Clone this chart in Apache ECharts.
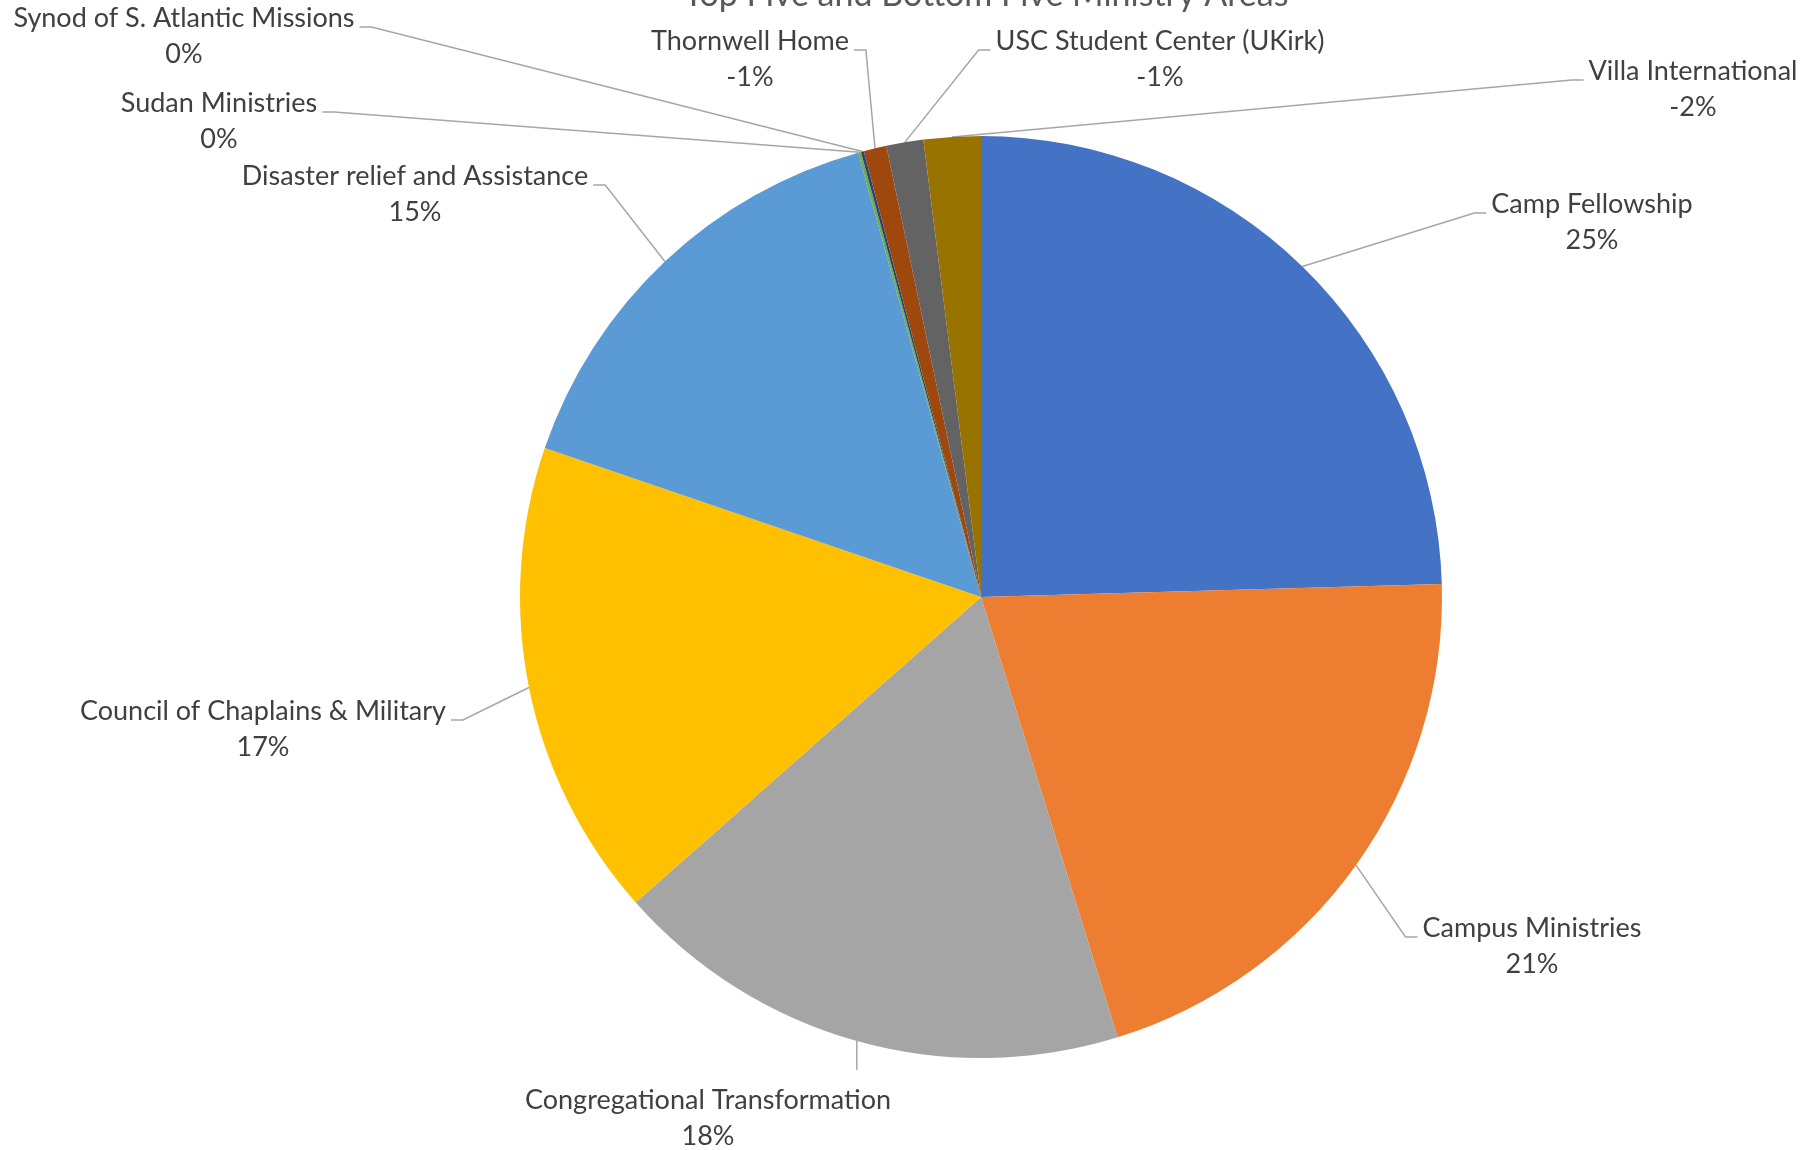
<!DOCTYPE html>
<html>
<head>
<meta charset="utf-8">
<script src="https://cdn.jsdelivr.net/npm/echarts@6/dist/echarts.min.js"></script>
<style>
  html, body { margin: 0; padding: 0; background: #fff; }
  #chart { width: 1808px; height: 1150px; }
</style>
</head>
<body>
<div id="chart"></div>
<script>
// Ministry areas, clockwise from 12 o'clock
const categories = [
  'Camp Fellowship',
  'Campus Ministries',
  'Congregational Transformation',
  'Council of Chaplains & Military',
  'Disaster relief and Assistance',
  'Sudan Ministries',
  'Synod of S. Atlantic Missions',
  'Thornwell Home',
  'USC Student Center (UKirk)',
  'Villa International'
]
// change values (signed); slice size uses the magnitude
const values = [24.6, 20.7, 18.3, 16.8, 15.5, 0.1, 0.1, -0.8, -1.3, -2.0]

const colors = ['#4472C4', '#ED7D31', '#A5A5A5', '#FFC000', '#5B9BD5',
  '#70AD47', '#264478', '#9E480E', '#636363', '#997300']

// where each label block sits (centre, px) and which side the leader line joins
const labelPos = [
  [1592, 222], [1532, 946], [708, 1118], [263, 729], [415, 194],
  [219, 121], [184, 36], [750, 59], [1160, 59], [1693, 89]
]
const lineSide = ['L', 'L', 'T', 'R', 'R', 'R', 'R', 'R', 'L', 'L']

const sumAbs = values.reduce((s, v) => s + Math.abs(v), 0)

const chart = echarts.init(document.getElementById('chart'), null, { renderer: 'canvas' })

function leaderLine(p) {
  const i = p.dataIndex
  const [x, y] = labelPos[i]
  const start = p.labelLinePoints ? p.labelLinePoints[0] : [981, 597]
  const w = p.labelRect.width
  const h = p.labelRect.height
  const side = lineSide[i]
  if (side === 'T') {
    const top = y - h / 2 - 12
    return [start, [start[0], top], [start[0], top]]
  }
  const ly = y - 9
  if (side === 'L') {
    const ex = x - w / 2 - 5
    return [start, [ex - 12, ly], [ex, ly]]
  }
  const ex = x + w / 2 + 5
  return [start, [ex + 12, ly], [ex, ly]]
}

chart.setOption({
  animation: false,
  color: colors,
  title: {
    text: 'Top Five and Bottom Five Ministry Areas',
    left: 981,
    textAlign: 'center',
    top: -27,
    textStyle: { color: '#595959', fontSize: 34, fontWeight: 'normal', fontFamily: 'Lato' }
  },
  series: [{
    type: 'pie',
    center: [981, 597],
    radius: 461,
    startAngle: 90,
    clockwise: true,
    avoidLabelOverlap: false,
    data: categories.map((name, i) => ({ name, value: Math.abs(values[i]) })),
    itemStyle: { borderWidth: 0 },
    label: {
      show: true,
      position: 'outside',
      color: '#404040',
      fontFamily: 'Lato',
      fontSize: 27,
      lineHeight: 36,
      align: 'center',
      formatter: p => p.name + '\n' + Math.round(values[p.dataIndex] / sumAbs * 100) + '%'
    },
    labelLine: {
      show: true,
      length: 20,
      length2: 10,
      lineStyle: { color: '#A6A6A6', width: 1.5 }
    },
    labelLayout: p => ({
      x: labelPos[p.dataIndex][0],
      y: labelPos[p.dataIndex][1],
      align: 'center',
      verticalAlign: 'middle',
      labelLinePoints: leaderLine(p)
    })
  }]
})
</script>
</body>
</html>
